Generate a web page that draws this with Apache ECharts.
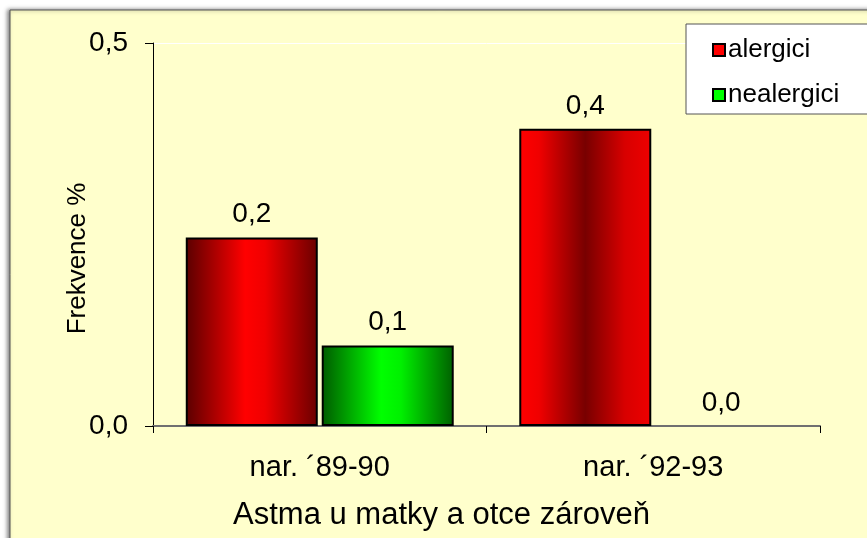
<!DOCTYPE html>
<html><head><meta charset="utf-8">
<script src="https://cdn.jsdelivr.net/npm/echarts@6/dist/echarts.min.js"></script>
<style>html,body{margin:0;padding:0;background:#fff}#c{width:867px;height:538px}</style>
</head><body><div id="c"></div>
<script>
var categories = ["nar. \u00b489-90", "nar. \u00b492-93"];
var alergici = [0.246, 0.388];
var nealergici = [0.105, 0.0];
var yTicks = [0, 0.5];

function grad(stops){
  return {type:'linear',x:0,y:0,x2:1,y2:0,colorStops:stops.map(function(s){return {offset:s[0],color:s[1]};})};
}
var redGrad = [
  grad([[0,'#5a0000'],[0.45,'#ff0000'],[0.6,'#f00000'],[1,'#6a0000']]),
  grad([[0,'#ff0000'],[0.15,'#f00000'],[0.5,'#780000'],[0.8,'#d80000'],[1,'#ee0000']])
];
var greenGrad = [
  grad([[0,'#005a00'],[0.45,'#00ff00'],[0.6,'#00f000'],[1,'#006000']]),
  grad([[0,'#005a00'],[0.45,'#00ff00'],[1,'#006000']])
];
function fmt(p){return p.value.toFixed(1).replace('.', ',');}
var FF = 'Liberation Sans, Arial, sans-serif';

var chart = echarts.init(document.getElementById('c'), null, {renderer:'canvas'});
chart.setOption({
  backgroundColor:'#ffffff',
  animation:false,
  textStyle:{fontFamily:FF},
  graphic:[
    {type:'rect', z:-10, shape:{x:10,y:10,width:870,height:540},
     style:{fill:'#FFFFCC',stroke:'#555555',lineWidth:1,shadowBlur:4,shadowOffsetX:-2,shadowOffsetY:0,shadowColor:'rgba(0,0,0,0.5)'}},
    {type:'rect', z:5, shape:{x:686,y:24,width:190,height:90},
     style:{fill:'#ffffff',stroke:'#555555',lineWidth:1}}
  ],
  legend:{
    left:707, top:32, orient:'vertical', itemGap:19, itemWidth:12, itemHeight:12,
    icon:'rect', z:10,
    textStyle:{fontSize:26, color:'#000', padding:[0,0,0,-2], fontFamily:FF},
    data:[
      {name:'alergici', itemStyle:{color:'#ff0000',borderColor:'#000',borderWidth:2}},
      {name:'nealergici', itemStyle:{color:'#00ff00',borderColor:'#000',borderWidth:2}}
    ]
  },
  grid:{left:153,right:47,top:43,bottom:112,containLabel:false},
  xAxis:{
    type:'category', data:categories,
    name:'Astma u matky a otce z\u00e1rove\u0148', nameLocation:'middle', nameGap:74,
    nameMoveOverlap:false,
    nameTextStyle:{fontSize:31,color:'#000',padding:[0,90,0,0],fontFamily:FF},
    axisLine:{lineStyle:{color:'#707070',width:2}},
    axisTick:{show:true,length:7,lineStyle:{color:'#000'},alignWithLabel:false},
    axisLabel:{fontSize:29,color:'#000',margin:27,fontFamily:FF}
  },
  yAxis:{
    type:'value', min:yTicks[0], max:yTicks[1], interval:0.5,
    name:'Frekvence %', nameLocation:'middle', nameGap:62, nameRotate:90,
    nameMoveOverlap:false,
    nameTextStyle:{fontSize:26,color:'#000',padding:[0,48,0,0],fontFamily:FF},
    axisLine:{show:true,lineStyle:{color:'#000',width:1}},
    axisTick:{show:true,inside:false,length:8,lineStyle:{color:'#000'}},
    axisLabel:{fontSize:28,color:'#000',margin:25,fontFamily:FF,formatter:function(v){return v.toFixed(1).replace('.',',');}},
    splitLine:{show:true,lineStyle:{color:'#ffffff',width:1}}
  },
  series:[
    {name:'alergici', type:'bar', barWidth:132, barGap:'3%',
     data:alergici.map(function(v,i){return {value:v,itemStyle:{color:redGrad[i],borderWidth:v>0?2:0}};}),
     itemStyle:{color:'#ff0000',borderColor:'#000',borderWidth:2},
     label:{show:true,position:'top',distance:9,fontSize:28,color:'#000',fontFamily:FF,formatter:fmt}},
    {name:'nealergici', type:'bar', barWidth:132,
     data:nealergici.map(function(v,i){return {value:v,itemStyle:{color:greenGrad[i],borderWidth:v>0?2:0}};}),
     itemStyle:{color:'#00ff00',borderColor:'#000',borderWidth:2},
     label:{show:true,position:'top',distance:9,fontSize:28,color:'#000',fontFamily:FF,formatter:fmt}}
  ]
});
</script></body></html>
